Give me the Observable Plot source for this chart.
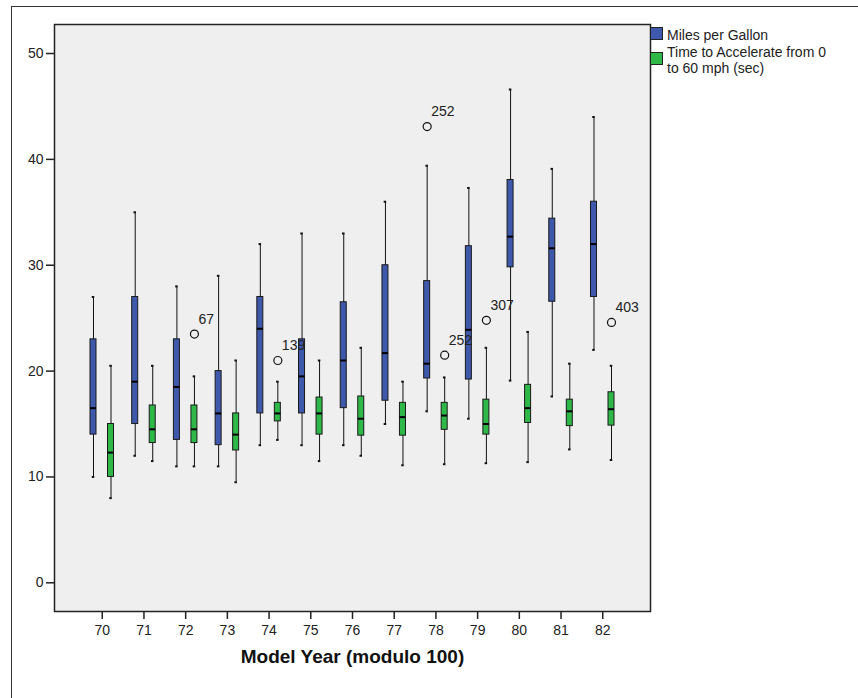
<!DOCTYPE html>
<html><head><meta charset="utf-8">
<script src="https://cdn.jsdelivr.net/npm/d3@7"></script>
<script src="https://cdn.jsdelivr.net/npm/@observablehq/plot@0.6"></script>
<style>
body{margin:0;background:#fff;font-family:"Liberation Sans",Arial,sans-serif;}
#wrap{position:relative;width:858px;height:698px;overflow:hidden;}
#border{position:absolute;left:11px;top:6px;width:900px;height:800px;border-left:1px solid #333;border-top:1px solid #333;}
#chart{position:absolute;left:0;top:0;}
.sw{position:absolute;width:11px;height:11px;border:1px solid #222;}
.lt{position:absolute;font-size:14px;color:#222;white-space:nowrap;}
</style></head>
<body>
<div id="wrap">
  <div id="border"></div>
  <div id="chart"></div>
  <div id="legend"></div>
</div>
<script>
// ---- data ----
const years = [70,71,72,73,74,75,76,77,78,79,80,81,82];
const seriesNames = ["Miles per Gallon", "Time to Accelerate from 0 to 60 mph (sec)"];
const seriesColors = ["#3E58AC", "#2EB848"];

const mpgLow  = [10, 12, 11, 11, 13, 13, 13, 15, 16.2, 15.5, 19.1, 17.6, 22];
const mpgQ1   = [14, 15, 13.5, 13, 16, 16, 16.5, 17.2, 19.3, 19.2, 29.8, 26.55, 27];
const mpgMed  = [16.5, 19, 18.5, 16, 24, 19.5, 21, 21.7, 20.7, 23.9, 32.7, 31.6, 32];
const mpgQ3   = [23, 27, 23, 20, 27, 23, 26.5, 30, 28.5, 31.8, 38.05, 34.4, 36];
const mpgHigh = [27, 35, 28, 29, 32, 33, 33, 36, 39.4, 37.3, 46.6, 39.1, 44];

const accLow  = [8, 11.5, 11, 9.5, 13.5, 11.5, 12, 11.1, 11.2, 11.3, 11.4, 12.6, 11.6];
const accQ1   = [10, 13.2, 13.2, 12.5, 15.25, 14, 13.9, 13.9, 14.45, 14, 15.1, 14.8, 14.85];
const accMed  = [12.3, 14.5, 14.5, 14, 16, 16, 15.5, 15.65, 15.8, 15, 16.5, 16.2, 16.4];
const accQ3   = [15, 16.75, 16.75, 16, 17, 17.5, 17.6, 17, 17, 17.3, 18.7, 17.3, 18];
const accHigh = [20.5, 20.5, 19.5, 21, 19, 21, 22.2, 19, 19.4, 22.2, 23.7, 20.7, 20.5];

const mpgOutYears  = [78];
const mpgOutValues = [43.1];
const mpgOutLabels = ["252"];
const accOutYears  = [72, 74, 78, 79, 82];
const accOutValues = [23.5, 21.0, 21.5, 24.8, 24.6];
const accOutLabels = ["67", "139", "252", "307", "403"];

const yTicks = [0, 10, 20, 30, 40, 50];
const xTitle = "Model Year (modulo 100)";

// ---- layout helpers (styling only) ----
const OFF = 0.21, HW = 0.072, CAP = 0.03;

function boxRows(off, lo, q1, med, q3, hi) {
  return years.map((yr, i) => ({x: yr + off, low: lo[i], q1: q1[i], med: med[i], q3: q3[i], high: hi[i]}));
}
const mpgRows = boxRows(-OFF, mpgLow, mpgQ1, mpgMed, mpgQ3, mpgHigh);
const accRows = boxRows(OFF, accLow, accQ1, accMed, accQ3, accHigh);
const allRows = mpgRows.concat(accRows);
const outliers = mpgOutYears.map((yr, i) => ({x: yr - OFF, y: mpgOutValues[i], label: mpgOutLabels[i]}))
  .concat(accOutYears.map((yr, i) => ({x: yr + OFF, y: accOutValues[i], label: accOutLabels[i]})));

const chart = Plot.plot({
  width: 858, height: 698,
  marginLeft: 54, marginTop: 24, marginRight: 208, marginBottom: 87,
  style: {fontSize: "14px", fontFamily: "'Liberation Sans', Arial, sans-serif", color: "#222", background: "transparent", overflow: "visible"},
  x: {domain: [68.855, 83.145]},
  y: {domain: [-2.71, 52.74]},
  marks: [
    Plot.frame({fill: "#efefef", stroke: null}),
    Plot.ruleX(allRows, {x: "x", y1: "low", y2: "high", stroke: "#111", strokeWidth: 1}),
    Plot.ruleY(allRows, {y: "low", x1: d => d.x - CAP, x2: d => d.x + CAP, stroke: "#111", strokeWidth: 2}),
    Plot.ruleY(allRows, {y: "high", x1: d => d.x - CAP, x2: d => d.x + CAP, stroke: "#111", strokeWidth: 2}),
    Plot.rect(mpgRows, {x1: d => d.x - HW, x2: d => d.x + HW, y1: "q1", y2: "q3", fill: seriesColors[0], stroke: "#1a1a1a", strokeWidth: 1}),
    Plot.rect(accRows, {x1: d => d.x - HW, x2: d => d.x + HW, y1: "q1", y2: "q3", fill: seriesColors[1], stroke: "#1a1a1a", strokeWidth: 1}),
    Plot.ruleY(allRows, {y: "med", x1: d => d.x - HW, x2: d => d.x + HW, stroke: "#000", strokeWidth: 2}),
    Plot.dot(outliers, {x: "x", y: "y", r: 4, stroke: "#111", strokeWidth: 1.2, fill: "none"}),
    Plot.text(outliers, {x: "x", y: "y", text: "label", dx: 4, dy: -15, textAnchor: "start", fontSize: 14, fill: "#222"}),
    Plot.frame({stroke: "#222", strokeWidth: 1.5}),
    Plot.axisX({ticks: years, tickFormat: d => String(d), tickSize: 8, tickPadding: 6, label: null, strokeWidth: 1.5}),
    Plot.axisY({ticks: yTicks, tickFormat: d => String(d), tickSize: 8, tickPadding: 3, label: null, strokeWidth: 1.5}),
    Plot.text([xTitle], {frameAnchor: "bottom", dy: 51, fontWeight: "bold", fontSize: 19, fill: "#111"})
  ]
});
document.getElementById("chart").appendChild(chart);

// ---- legend ----
const legend = document.getElementById("legend");
legend.innerHTML =
  `<div class="sw" style="left:650px;top:27px;background:${seriesColors[0]}"></div>` +
  `<div class="lt" style="left:667px;top:27px;line-height:16px">${seriesNames[0]}</div>` +
  `<div class="sw" style="left:650px;top:52px;background:${seriesColors[1]}"></div>` +
  `<div class="lt" style="left:667px;top:45px;line-height:15.7px">Time to Accelerate from 0<br>to 60 mph (sec)</div>`;
</script>
</body></html>
